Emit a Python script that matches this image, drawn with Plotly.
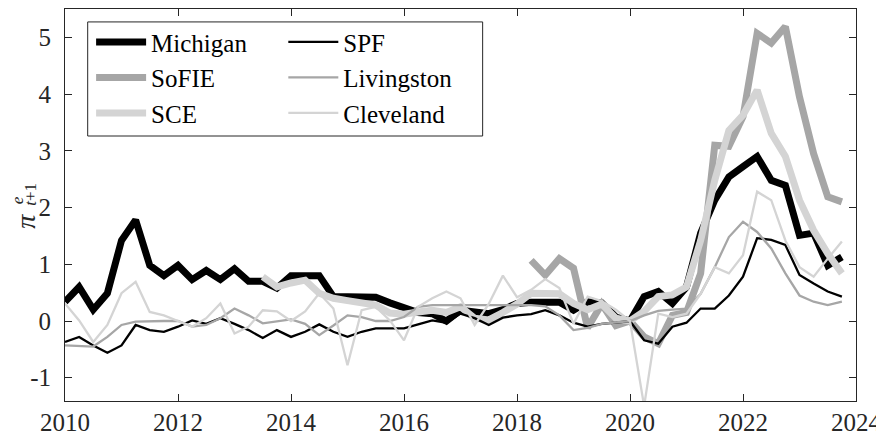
import plotly.graph_objects as go

# quarterly observations, 2010Q1 .. 2023Q4
quarters = [2010 + i / 4 for i in range(56)]

michigan = [0.34, 0.60, 0.20, 0.49,
            1.42, 1.78, 0.98, 0.80,
            0.98, 0.73, 0.89, 0.73,
            0.92, 0.70, 0.70, 0.58,
            0.80, 0.80, 0.80, 0.43,
            0.43, 0.42, 0.42, 0.32,
            0.22, 0.15, 0.13, 0.00,
            0.19, 0.15, 0.13, 0.20,
            0.31, 0.33, 0.33, 0.33,
            0.19, 0.34, 0.32, 0.07,
            0.00, 0.43, 0.52, 0.31,
            0.60, 1.55, 2.13, 2.54,
            2.72, 2.90, 2.48, 2.39,
            1.51, 1.55, 0.98, 1.13]

sofie = [None] * 33 + [1.07, 0.81, 1.10,
                       0.93, -0.12, 0.30, -0.08,
                       0.00, -0.28, -0.40, 0.10,
                       0.15, 0.84, 3.10, 3.08,
                       3.60, 5.07, 4.90, 5.19,
                       3.95, 2.95, 2.19, 2.10]

sce = [None] * 14 + [0.78, 0.60,
                     0.67, 0.72, 0.49, 0.40,
                     0.36, 0.33, 0.28, 0.14,
                     0.12, 0.16, 0.19, 0.15,
                     0.25, 0.05, 0.02, 0.15,
                     0.30, 0.49, 0.48, 0.48,
                     0.31, 0.20, 0.30, 0.05,
                     0.00, 0.17, 0.43, 0.46,
                     0.60, 1.42, 2.48, 3.36,
                     3.63, 4.07, 3.31, 2.90,
                     2.13, 1.60, 1.19, 0.84]

spf = [-0.37, -0.28, -0.43, -0.56,
       -0.43, -0.07, -0.16, -0.19,
       -0.10, 0.01, -0.05, 0.05,
       -0.05, -0.16, -0.30, -0.16,
       -0.28, -0.19, -0.06, -0.19,
       -0.28, -0.19, -0.13, -0.13,
       -0.13, -0.06, 0.01, -0.03,
       0.13, 0.05, -0.07, 0.06,
       0.10, 0.12, 0.19, 0.10,
       -0.03, -0.10, -0.05, -0.03,
       0.00, -0.34, -0.40, -0.10,
       -0.03, 0.22, 0.22, 0.45,
       0.78, 1.46, 1.43, 1.34,
       0.81, 0.66, 0.52, 0.43]

livingston = [-0.43, -0.44, -0.45, -0.28,
              -0.07, -0.01, 0.00, 0.00,
              0.00, -0.10, -0.07, 0.05,
              0.22, 0.10, -0.04, -0.01,
              0.03, -0.05, -0.25, -0.08,
              0.10, 0.07, 0.00, 0.00,
              0.07, 0.25, 0.28, 0.28,
              0.28, 0.28, 0.28, 0.28,
              0.28, 0.28, 0.26, 0.10,
              -0.16, -0.12, -0.05, -0.02,
              0.00, 0.10, 0.18, 0.20,
              0.22, 0.48, 0.95, 1.48,
              1.75, 1.57, 1.28, 0.84,
              0.45, 0.34, 0.28, 0.34]

cleveland = [0.31, 0.01, -0.37, -0.07,
             0.49, 0.69, 0.16, 0.10,
             0.00, -0.10, 0.05, 0.31,
             -0.22, -0.10, 0.19, 0.17,
             0.00, 0.17, 0.49, 0.22,
             -0.78, 0.19, 0.25, 0.01,
             -0.34, 0.25, 0.40, 0.52,
             0.40, -0.07, 0.30, 0.80,
             0.42, 0.55, 0.74, 0.58,
             -0.05, 0.43, 0.35, 0.20,
             0.00, -1.50, 0.13, 0.07,
             0.13, 0.48, 0.95, 0.84,
             1.16, 2.28, 2.13, 1.42,
             0.95, 0.78, 1.10, 1.40]

xticks = [2010, 2012, 2014, 2016, 2018, 2020, 2022, 2024]
xticklabels = ["2010", "2012", "2014", "2016", "2018", "2020", "2022", "2024"]
yticks = [-1, 0, 1, 2, 3, 4, 5]
yticklabels = ["-1", "0", "1", "2", "3", "4", "5"]

FONT = "Liberation Serif, Times New Roman, DejaVu Serif, serif"
AX = "#262626"

series = [
    ("Michigan", michigan, "black", 7, "legend"),
    ("SoFIE", sofie, "#a6a6a6", 7, "legend"),
    ("SCE", sce, "#d4d4d4", 7, "legend"),
    ("SPF", spf, "black", 2.3, "legend2"),
    ("Livingston", livingston, "#a6a6a6", 2.3, "legend2"),
    ("Cleveland", cleveland, "#d4d4d4", 2.3, "legend2"),
]

fig = go.Figure()
for name, vals, col, w, leg in series:
    fig.add_trace(go.Scatter(x=quarters, y=vals, name=name, mode="lines",
                             line=dict(color=col, width=w), legend=leg,
                             connectgaps=False))

axis_common = dict(showline=True, linecolor=AX, linewidth=1, mirror="ticks",
                   ticks="inside", ticklen=7, tickcolor=AX, showgrid=False,
                   zeroline=False, tickfont=dict(family=FONT, size=25, color=AX))

fig.update_xaxes(range=[2010, 2024], tickvals=xticks, ticktext=xticklabels,
                 ticklabelstandoff=-1, **axis_common)
fig.update_yaxes(range=[-1.41, 5.5], tickvals=yticks, ticktext=yticklabels,
                 ticklabelstandoff=8, **axis_common)

leg_style = dict(font=dict(family=FONT, size=25, color="black"), bgcolor="rgba(0,0,0,0)",
                 borderwidth=0, yanchor="top", xanchor="left", tracegroupgap=0,
                 itemwidth=50)

# the page body adds an 8px margin, so the figure is 8px smaller than the window
fig.update_layout(
    width=876, height=429,
    margin=dict(l=57, r=28, t=1, b=36, autoexpand=False),
    paper_bgcolor="white", plot_bgcolor="white",
    legend=dict(x=0.033, y=0.974, **leg_style),
    legend2=dict(x=0.276, y=0.974, **leg_style),
    shapes=[dict(type="rect", xref="paper", yref="paper",
                 x0=0.0287, x1=0.528, y0=0.676, y1=0.967,
                 line=dict(color=AX, width=1), fillcolor="white", layer="below")],
)

# rotated y-axis label: pi with stacked super/subscripts
lab = dict(xref="paper", yref="paper", x=0, showarrow=False, textangle=-90,
           xanchor="center", yanchor="middle")
fig.add_annotation(text="<i>π</i>", y=0.457, xshift=-39,
                   font=dict(family=FONT, size=28, color=AX), **lab)
fig.add_annotation(text="<i>e</i>", y=0.512, xshift=-48,
                   font=dict(family=FONT, size=17, color=AX), **lab)
fig.add_annotation(text="<i>t</i>+1", y=0.526, xshift=-34,
                   font=dict(family=FONT, size=17, color=AX), **lab)

fig.write_html("out.html")
